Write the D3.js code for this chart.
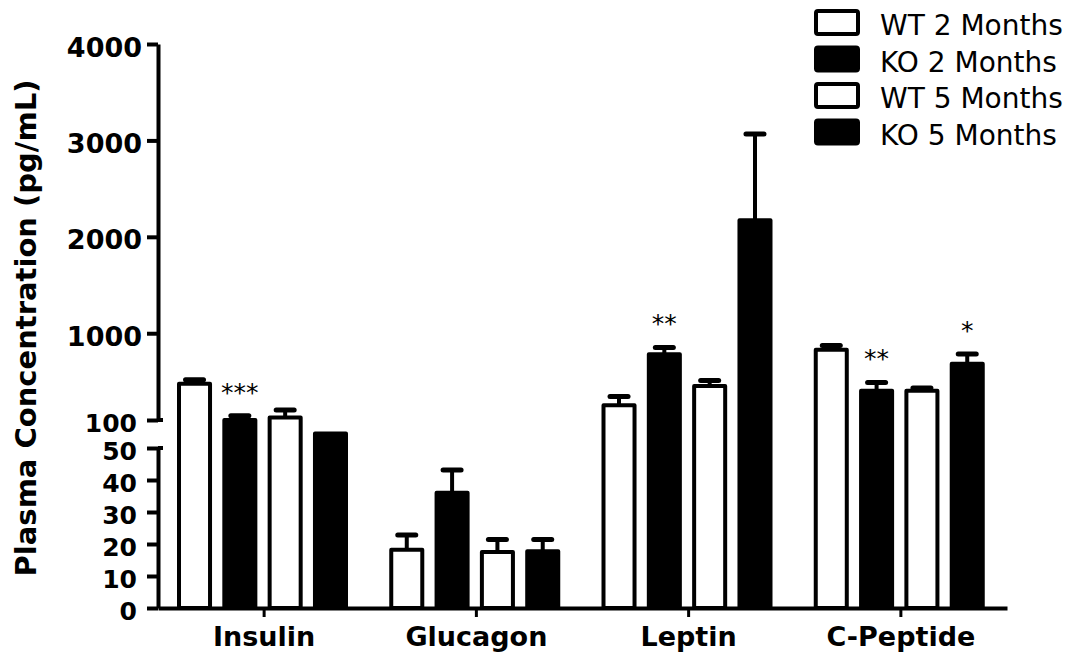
<!DOCTYPE html>
<html>
<head>
<meta charset="utf-8">
<script src="https://cdn.jsdelivr.net/npm/d3@7"></script>
<style>
  html, body { margin: 0; padding: 0; background: #fff; }
  svg { display: block; }
  text { font-family: "DejaVu Sans", Verdana, sans-serif; fill: #000; }
</style>
</head>
<body>
<svg id="chart" width="1071" height="654"></svg>
<script>
// Plasma hormone levels by genotype and age (mean ± SEM, pg/mL)
const categories = ["Insulin", "Glucagon", "Leptin", "C-Peptide"];
const seriesNames = ["WT 2 Months", "KO 2 Months", "WT 5 Months", "KO 5 Months"];
const seriesFilled = [false, true, false, true];

const wt2Mean = [475, 18.2, 252, 829];
const wt2Sem  = [42, 4.6, 92, 44];
const ko2Mean = [100, 36.0, 781, 404];
const ko2Sem  = [43, 7.1, 71, 85];
const wt5Mean = [125, 17.5, 453, 404];
const wt5Sem  = [80, 3.9, 57, 28];
const ko5Mean = [76, 17.7, 2171, 684];
const ko5Sem  = [0, 3.7, 896, 101];

// significance marks (KO vs WT at the same age)
const ko2Stars = ["***", "", "**", "**"];
const ko5Stars = ["", "", "", "*"];

// broken y axis: 0–50 below the break, 100–4000 above it
const lowTicks  = [0, 10, 20, 30, 40, 50];
const highTicks = [100, 1000, 2000, 3000, 4000];

const means = [wt2Mean, ko2Mean, wt5Mean, ko5Mean];
const sems  = [wt2Sem, ko2Sem, wt5Sem, ko5Sem];
const stars = [[], ko2Stars, [], ko5Stars];

const svg = d3.select("#chart");

const axisX = 158, baseY = 608;
const yLow  = d3.scaleLinear().domain([0, 50]).range([baseY, 448]);
const yHigh = d3.scaleLinear().domain([100, 4000]).range([420, 44]);
// continuous scale for the bars themselves (they run through the break)
const y = d3.scaleLinear().domain([0, 50, 100, 4000]).range([baseY, 448, 420, 44]);

const x0 = d3.scaleBand().domain(categories).range([axisX, 1007]).paddingInner(0).paddingOuter(0);
const x1 = d3.scaleBand().domain(d3.range(seriesNames.length)).range([19, 190]).paddingInner(0.227).paddingOuter(0);

const rows = [];
categories.forEach((c, ci) => {
  seriesNames.forEach((s, si) => {
    rows.push({ c, ci, si, mean: means[si][ci], sem: sems[si][ci], star: stars[si][ci] || "", filled: seriesFilled[si] });
  });
});

const sw = 4;
const bw = x1.bandwidth();
const g = svg.append("g");

// error bars (behind bars)
const err = g.selectAll("g.err").data(rows.filter(d => d.sem > 0)).join("g").attr("class", "err");
err.append("line")
  .attr("x1", d => x0(d.c) + x1(d.si) + bw / 2)
  .attr("x2", d => x0(d.c) + x1(d.si) + bw / 2)
  .attr("y1", d => y(d.mean))
  .attr("y2", d => y(d.mean + d.sem))
  .attr("stroke", "#000").attr("stroke-width", 4);
err.append("line")
  .attr("x1", d => x0(d.c) + x1(d.si) + bw / 2 - 9)
  .attr("x2", d => x0(d.c) + x1(d.si) + bw / 2 + 9)
  .attr("y1", d => y(d.mean + d.sem))
  .attr("y2", d => y(d.mean + d.sem))
  .attr("stroke", "#000").attr("stroke-width", 5).attr("stroke-linecap", "round");

// bars
g.selectAll("rect.bar").data(rows).join("rect").attr("class", "bar")
  .attr("x", d => x0(d.c) + x1(d.si) + sw / 2)
  .attr("width", bw - sw)
  .attr("y", d => y(d.mean))
  .attr("height", d => baseY - y(d.mean))
  .attr("fill", d => d.filled ? "#000" : "#fff")
  .attr("stroke", "#000").attr("stroke-width", sw)
  .attr("stroke-linejoin", "round");

// significance asterisks
g.selectAll("text.star").data(rows.filter(d => d.star)).join("text").attr("class", "star")
  .attr("x", d => x0(d.c) + x1(d.si) + bw / 2)
  .attr("y", d => y(d.mean + d.sem) - 15)
  .attr("text-anchor", "middle")
  .style("font-size", "25px")
  .text(d => d.star);

const fmt = d3.format("d");

// y axis, lower segment
const gLow = svg.append("g").attr("transform", `translate(${axisX},0)`)
  .call(d3.axisLeft(yLow).tickValues(lowTicks).tickFormat(fmt).tickSize(11).tickSizeOuter(0).tickPadding(10));
// y axis, upper segment
const gHigh = svg.append("g").attr("transform", `translate(${axisX},0)`)
  .call(d3.axisLeft(yHigh).tickValues(highTicks).tickFormat(fmt).tickSize(11).tickSizeOuter(0).tickPadding(5));

[gLow, gHigh].forEach(a => {
  a.selectAll("path.domain").attr("stroke", "#000").attr("stroke-width", 4);
  a.selectAll(".tick line").attr("stroke", "#000").attr("stroke-width", 4);
  a.selectAll(".tick text")
    .style("font-weight", "bold")
    .style("font-size", d => d >= 1000 ? "27px" : "25px")
    .attr("x", d => d >= 1000 ? -16 : -21)
    .attr("dy", "0.45em");
});

// small caps on either side of the axis break
svg.append("g").selectAll("line").data([{ s: yHigh, v: 100 }, { s: yLow, v: 50 }]).join("line")
  .attr("x1", axisX).attr("x2", axisX + 5)
  .attr("y1", d => d.s(d.v)).attr("y2", d => d.s(d.v))
  .attr("stroke", "#000").attr("stroke-width", 4);

// x axis
const gx = svg.append("g").attr("transform", `translate(0,${baseY})`)
  .call(d3.axisBottom(x0).tickSize(9).tickSizeOuter(0).tickPadding(10));
gx.select("path.domain").attr("stroke", "#000").attr("stroke-width", 4);
gx.selectAll(".tick line").attr("stroke", "#000").attr("stroke-width", 3);
gx.selectAll(".tick text").style("font-weight", "bold").style("font-size", "27px");

// y axis title
svg.append("text")
  .attr("transform", `translate(36,${(44 + baseY) / 2 + 2}) rotate(-90)`)
  .attr("text-anchor", "middle")
  .style("font-weight", "bold")
  .style("font-size", "29px")
  .text("Plasma Concentration (pg/mL)");

// legend
const legend = svg.append("g").attr("transform", "translate(814,9)");
const li = legend.selectAll("g").data(seriesNames).join("g")
  .attr("transform", (d, i) => `translate(0,${i * 36.5})`);
li.append("rect")
  .attr("x", 2).attr("y", 2).attr("width", 42).attr("height", 23)
  .attr("rx", 2)
  .attr("fill", (d, i) => seriesFilled[i] ? "#000" : "#fff")
  .attr("stroke", "#000").attr("stroke-width", 4).attr("stroke-linejoin", "round");
li.append("text")
  .attr("x", 66).attr("y", 26)
  .style("font-size", "28px")
  .text(d => d);
</script>
</body>
</html>
